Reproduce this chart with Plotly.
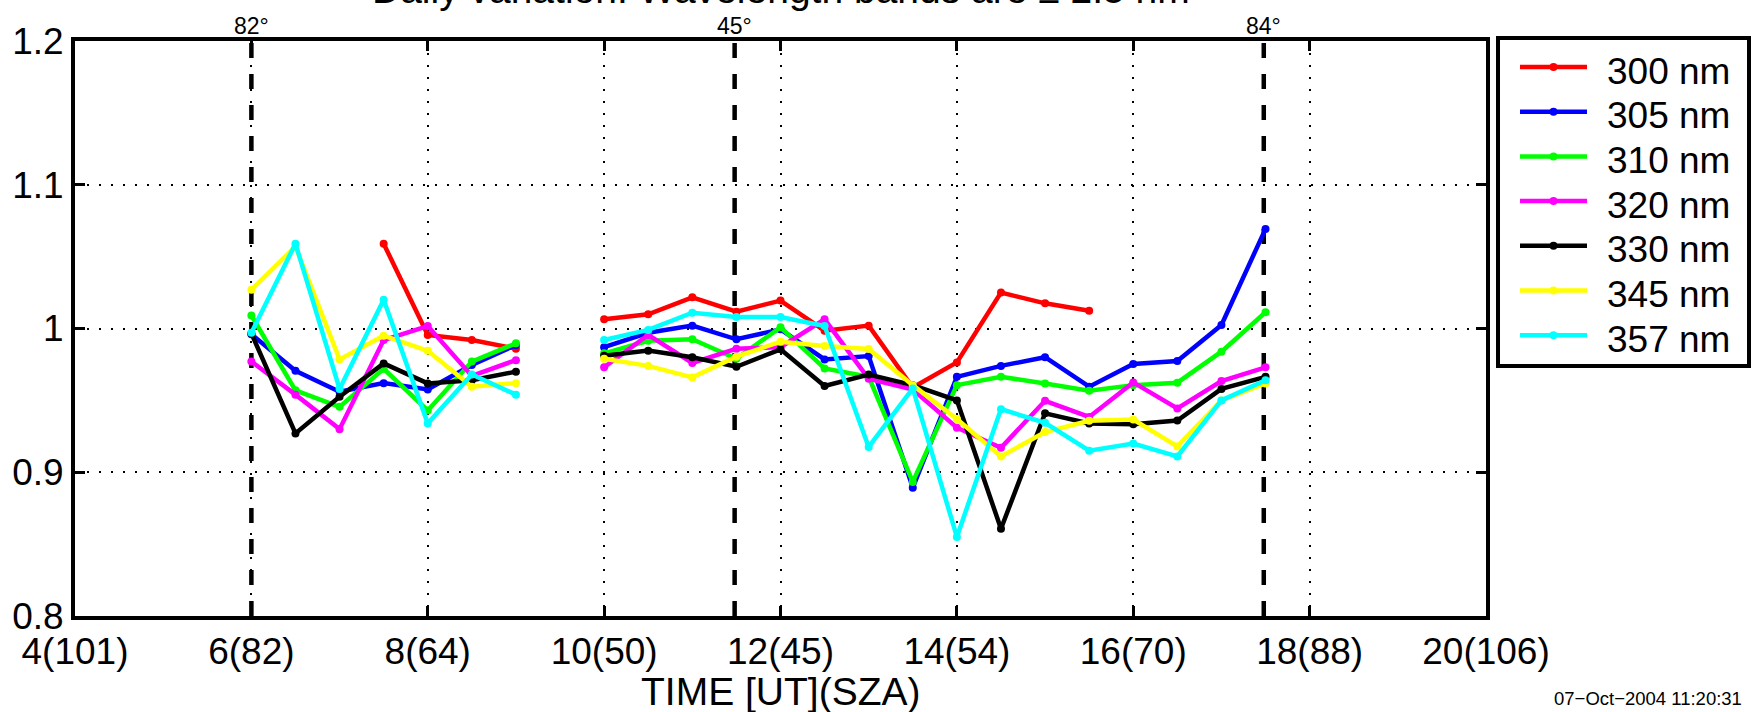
import plotly.graph_objects as go

# Half-hourly sample times [UT]; None entries break the line where no data exist
times = [6, 6.5, 7, 7.5, 8, 8.5, 9, 9.5, 10, 10.5, 11, 11.5, 12, 12.5,
         13, 13.5, 14, 14.5, 15, 15.5, 16, 16.5, 17, 17.5]

ratio_300 = [None, None, None, 1.059, 0.9955, 0.992, 0.986, None, 1.0064, 1.0099, 1.0217, 1.0117,
             1.0194, 0.9985, 1.002, 0.959, 0.9764, 1.025, 1.0175, 1.0124, None, None, None, None]
ratio_305 = [0.996, 0.9706, 0.956, 0.962, 0.9576, 0.9746, 0.9885, None, 0.987, 0.997, 1.002, 0.9925,
             0.9994, 0.9785, 0.9808, 0.8893, 0.9664, 0.974, 0.980, 0.9595, 0.9753, 0.9774, 1.0024, 1.0693]
ratio_310 = [1.009, 0.957, 0.9455, 0.972, 0.943, 0.977, 0.9897, None, 0.9827, 0.9915, 0.9925, 0.979,
             1.0008, 0.9722, 0.9664, 0.8933, 0.9606, 0.9664, 0.9618, 0.9567, 0.9606, 0.9623, 0.9839, 1.0113]
ratio_320 = [0.977, 0.954, 0.930, 0.992, 1.0017, 0.967, 0.978, None, 0.973, 0.9955, 0.976, 0.986,
             0.987, 1.0064, 0.965, 0.9576, 0.931, 0.917, 0.9497, 0.9385, 0.9625, 0.9444, 0.9634, 0.973]
ratio_330 = [0.9966, 0.927, 0.9525, 0.9757, 0.9618, 0.964, 0.970, None, 0.981, 0.9846, 0.980, 0.9734,
             0.9855, 0.960, 0.968, 0.9606, 0.950, 0.8607, 0.941, 0.934, 0.9334, 0.936, 0.958, 0.9664]
ratio_345 = [1.027, 1.057, 0.9785, 0.995, 0.9845, 0.9595, 0.962, None, 0.979, 0.974, 0.966, 0.9804,
             0.9908, 0.9878, 0.9857, 0.9606, 0.937, 0.911, 0.928, 0.9358, 0.9367, 0.918, 0.950, 0.9618]
ratio_357 = [0.997, 1.059, 0.958, 1.020, 0.934, 0.968, 0.954, None, 0.992, 0.999, 1.011, 1.008,
             1.008, 1.0017, 0.9176, 0.9583, 0.855, 0.9439, 0.9344, 0.915, 0.920, 0.911, 0.950, 0.964]

band_names = ["300 nm", "305 nm", "310 nm", "320 nm", "330 nm", "345 nm", "357 nm"]
band_values = [ratio_300, ratio_305, ratio_310, ratio_320, ratio_330, ratio_345, ratio_357]
band_colors = ["#ff0000", "#0000ff", "#00ff00", "#ff00ff", "#000000", "#ffff00", "#00ffff"]

# x-axis ticks: hour with solar zenith angle in brackets
tick_hours = [4, 6, 8, 10, 12, 14, 16, 18, 20]
tick_labels = ["4(101)", "6(82)", "8(64)", "10(50)", "12(45)", "14(54)", "16(70)", "18(88)", "20(106)"]
y_ticks = [0.8, 0.9, 1.0, 1.1, 1.2]
y_tick_labels = ["0.8", "0.9", "1", "1.1", "1.2"]

# SZA reference markers
sza_hours = [6.0, 11.48, 17.48]
sza_labels = ["82°", "45°", "84°"]

title_text = "Daily variation. Wavelength bands are ± 2.5 nm"
xlabel_text = "TIME [UT](SZA)"
stamp_text = "07−Oct−2004 11:20:31"

FONT = "Liberation Sans, Arial, Helvetica, sans-serif"
W, H = 1760, 712
L, R, T, B = 75, 274, 41, 96
PW, PH = W - L - R, H - T - B


def px_x(X):
    return (X - L) / PW


def px_y(Y):
    return (H - B - Y) / PH


fig = go.Figure()
for name, vals, col in zip(band_names, band_values, band_colors):
    fig.add_trace(go.Scatter(
        x=times, y=vals, name=name, mode="lines+markers",
        line=dict(color=col, width=4.5),
        marker=dict(color=col, size=8),
        connectgaps=False, showlegend=False,
    ))

shapes = []
annotations = []

# dashed SZA marker lines and their labels
for hx, lab in zip(sza_hours, sza_labels):
    shapes.append(dict(type="line", xref="x", yref="paper", x0=hx, x1=hx, y0=0, y1=1,
                       line=dict(color="black", width=4.5, dash="15px,16px"), layer="below"))
    annotations.append(dict(x=hx, xref="x", y=1, yref="paper", yanchor="bottom",
                            text=lab, showarrow=False, yshift=0,
                            font=dict(size=23, color="black", family=FONT)))

# legend box drawn by hand
shapes.append(dict(type="rect", xref="paper", yref="paper",
                   x0=px_x(1498), x1=px_x(1749), y0=px_y(366), y1=px_y(38),
                   line=dict(color="black", width=4), fillcolor="white", layer="above"))
for i, (name, col) in enumerate(zip(band_names, band_colors)):
    yc = 67 + i * 44.7
    shapes.append(dict(type="line", xref="paper", yref="paper",
                       x0=px_x(1520), x1=px_x(1587), y0=px_y(yc), y1=px_y(yc),
                       line=dict(color=col, width=4.5), layer="above"))
    shapes.append(dict(type="circle", xref="paper", yref="paper",
                       xsizemode="pixel", ysizemode="pixel",
                       xanchor=px_x(1553.5), yanchor=px_y(yc),
                       x0=-4, x1=4, y0=-4, y1=4,
                       fillcolor=col, line=dict(color=col, width=0), layer="above"))
    annotations.append(dict(x=px_x(1605), xref="paper", y=px_y(yc + 4), yref="paper",
                            xanchor="left", yanchor="middle", text=name, showarrow=False,
                            font=dict(size=37, color="black", family=FONT)))

annotations.append(dict(x=0.5, xref="paper", y=px_y(13), yref="paper", yanchor="bottom",
                        text=title_text, showarrow=False,
                        font=dict(size=39, color="black", family=FONT)))
annotations.append(dict(x=0.5, xref="paper", y=px_y(691), yref="paper", yanchor="middle",
                        text=xlabel_text, showarrow=False,
                        font=dict(size=39, color="black", family=FONT)))
annotations.append(dict(x=px_x(1744), xref="paper", xanchor="right", y=px_y(699), yref="paper",
                        yanchor="middle", text=stamp_text, showarrow=False,
                        font=dict(size=18.5, color="black", family=FONT)))

axis_common = dict(
    showline=True, linecolor="black", linewidth=4, mirror="allticks",
    ticks="inside", ticklen=10, tickwidth=3, tickcolor="black",
    showgrid=True, gridcolor="black", gridwidth=1.5, griddash="2px,10px",
    zeroline=False, tickfont=dict(size=37, color="black", family=FONT),
)

fig.update_layout(
    width=W, height=H,
    margin=dict(l=L, r=R, t=T, b=B, autoexpand=False),
    paper_bgcolor="white", plot_bgcolor="white",
    font=dict(family=FONT, color="black"),
    xaxis=dict(range=[4, 20], tickvals=tick_hours, ticktext=tick_labels, **axis_common),
    yaxis=dict(range=[0.8, 1.2], tickvals=y_ticks, ticktext=y_tick_labels, **axis_common),
    shapes=shapes, annotations=annotations, showlegend=False,
)

fig.write_html("out.html")
